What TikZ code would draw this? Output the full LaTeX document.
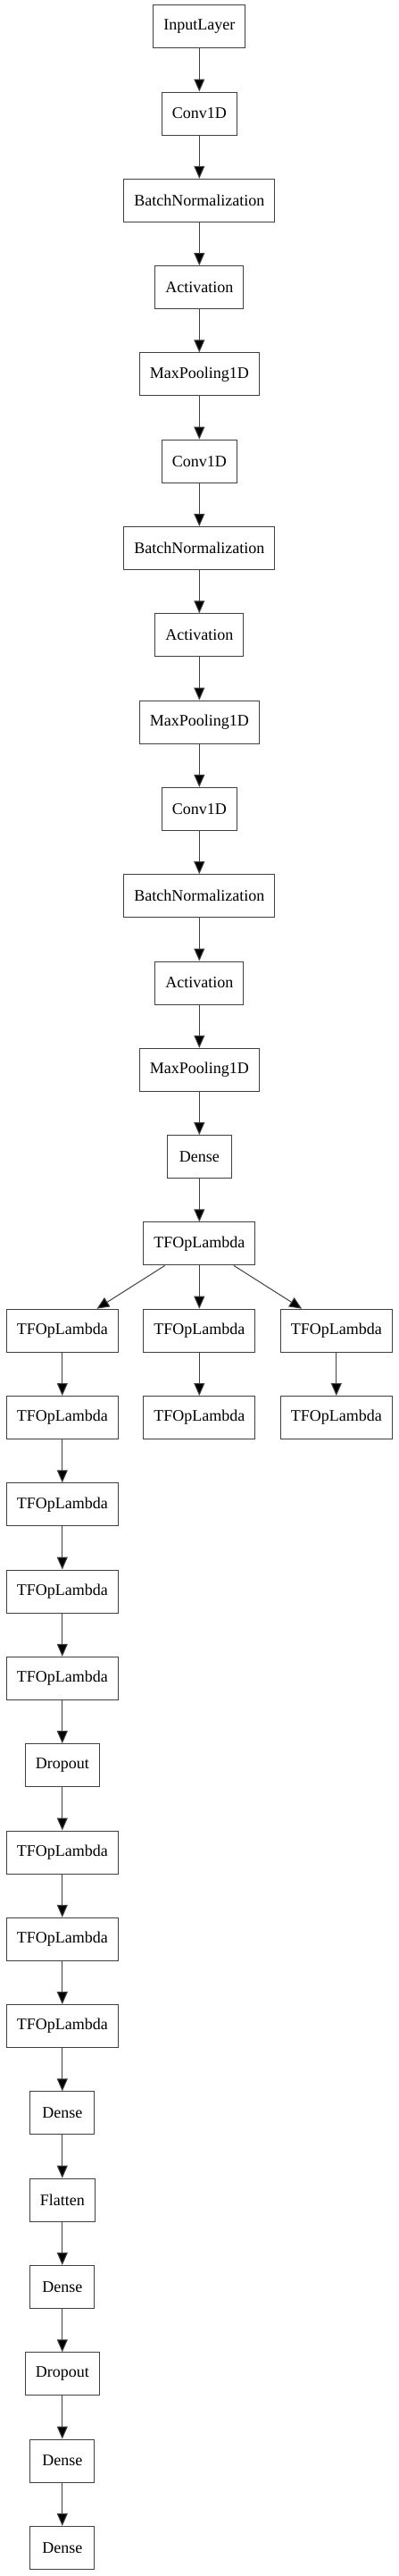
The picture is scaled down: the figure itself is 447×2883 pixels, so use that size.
\documentclass[tikz,border=0pt]{standalone}
\usepackage{fontspec}
\setmainfont{Liberation Serif}
\usetikzlibrary{positioning,arrows.meta}
\tikzstyle{layer} = [draw=black!75, line width=1pt, fill=white, rectangle,
    minimum width=72pt, minimum height=48pt, inner xsep=11.5pt,
    font=\fontsize{18pt}{20pt}\selectfont]
\tikzstyle{link} = [draw=black!75, line width=1pt,
    -{Triangle[length=14pt,width=12pt,fill=black]}]

\begin{document}
\begin{tikzpicture}[node distance=48.3pt]
\useasboundingbox (0,0) rectangle (447pt,-2883pt);
% main column
\node [layer] (input) at (223.3pt,-29.7pt) {InputLayer};
\node [layer, below=of input] (conva) {Conv1D};
\node [layer, below=of conva] (bna) {BatchNormalization};
\node [layer, below=of bna] (acta) {Activation};
\node [layer, below=of acta] (poola) {MaxPooling1D};
\node [layer, below=of poola] (convb) {Conv1D};
\node [layer, below=of convb] (bnb) {BatchNormalization};
\node [layer, below=of bnb] (actb) {Activation};
\node [layer, below=of actb] (poolb) {MaxPooling1D};
\node [layer, below=of poolb] (convc) {Conv1D};
\node [layer, below=of convc] (bnc) {BatchNormalization};
\node [layer, below=of bnc] (actc) {Activation};
\node [layer, below=of actc] (poolc) {MaxPooling1D};
\node [layer, below=of poolc] (densea) {Dense};
\node [layer, below=of densea] (tfop) {TFOpLambda};
% three branches
\node [layer, below=of tfop, xshift=-153.5pt] (lefta) {TFOpLambda};
\node [layer, below=of tfop] (mida) {TFOpLambda};
\node [layer, below=of tfop, xshift=153.5pt] (righta) {TFOpLambda};
\node [layer, below=of mida] (midb) {TFOpLambda};
\node [layer, below=of righta] (rightb) {TFOpLambda};
% left column
\node [layer, below=of lefta] (leftb) {TFOpLambda};
\node [layer, below=of leftb] (leftc) {TFOpLambda};
\node [layer, below=of leftc] (leftd) {TFOpLambda};
\node [layer, below=of leftd] (lefte) {TFOpLambda};
\node [layer, below=of lefte] (dropa) {Dropout};
\node [layer, below=of dropa] (leftf) {TFOpLambda};
\node [layer, below=of leftf] (leftg) {TFOpLambda};
\node [layer, below=of leftg] (lefth) {TFOpLambda};
\node [layer, below=of lefth] (denseb) {Dense};
\node [layer, below=of denseb] (flat) {Flatten};
\node [layer, below=of flat] (densec) {Dense};
\node [layer, below=of densec] (dropb) {Dropout};
\node [layer, below=of dropb] (densed) {Dense};
\node [layer, below=of densed] (densee) {Dense};
% edges
\foreach \a/\b in {input/conva, conva/bna, bna/acta, acta/poola, poola/convb,
    convb/bnb, bnb/actb, actb/poolb, poolb/convc, convc/bnc, bnc/actc,
    actc/poolc, poolc/densea, densea/tfop, tfop/lefta, tfop/mida,
    tfop/righta, mida/midb, righta/rightb, lefta/leftb, leftb/leftc,
    leftc/leftd, leftd/lefte, lefte/dropa, dropa/leftf, leftf/leftg,
    leftg/lefth, lefth/denseb, denseb/flat, flat/densec, densec/dropb,
    dropb/densed, densed/densee}
    \draw [link] (\a) -- (\b);
\end{tikzpicture}
\end{document}
